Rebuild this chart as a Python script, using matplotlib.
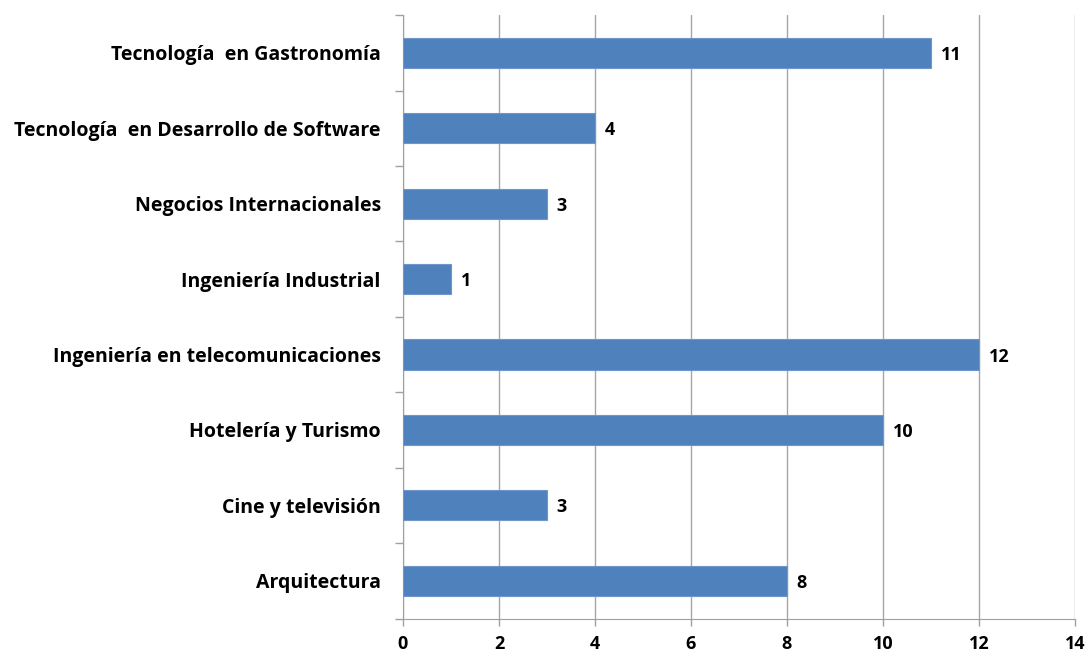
import numpy as np
import matplotlib
matplotlib.use("Agg")
import matplotlib.pyplot as plt
from matplotlib.ticker import FixedLocator

# data (bottom to top)
carreras = ['Arquitectura', 'Cine y televisión', 'Hotelería y Turismo',
            'Ingeniería en telecomunicaciones', 'Ingeniería Industrial',
            'Negocios Internacionales', 'Tecnología  en Desarrollo de Software',
            'Tecnología  en Gastronomía']
valores = [8, 3, 10, 12, 1, 3, 4, 11]
x_ticks = [0, 2, 4, 6, 8, 10, 12, 14]

plt.rcParams['font.family'] = ['Open Sans', 'DejaVu Sans']

fig = plt.figure(figsize=(10.9, 6.58), dpi=100)
ax = fig.add_axes([0.3697, 0.0600, 0.6165, 0.9170])

y = np.arange(len(carreras))
ax.barh(y, valores, height=0.4, color='#4F81BD', edgecolor='#6D97CC',
        linewidth=0.8, zorder=3)

# value labels
for yi, v in zip(y, valores):
    ax.text(v + 0.2, yi, str(v), va='center_baseline', ha='left', fontsize=13,
            fontweight='bold', color='black')

ax.set_xlim(0, 14)
ax.set_ylim(-0.5, len(carreras) - 0.5)
ax.set_xticks(x_ticks)
ax.set_xticklabels([str(t) for t in x_ticks], fontsize=13, fontweight='bold')

# category labels, boundary ticks as minor marks
ax.set_yticks(y)
ax.set_yticklabels(carreras, fontsize=14, fontweight='bold')
ax.tick_params(axis='y', length=0, pad=16)
ax.yaxis.set_minor_locator(FixedLocator(np.arange(-0.5, len(carreras), 1.0)))
ax.tick_params(axis='y', which='minor', length=6, color='#A0A0A0', width=1)
ax.tick_params(axis='x', length=5, color='#A0A0A0', width=1, pad=7)

# grid
ax.grid(axis='x', color='#A6A6A6', linewidth=1, zorder=0)
for s in ['top', 'right']:
    ax.spines[s].set_visible(False)
ax.spines['left'].set_color('#A0A0A0')
ax.spines['bottom'].set_color('#A0A0A0')

fig.savefig('out.png', dpi=100, facecolor='white')
